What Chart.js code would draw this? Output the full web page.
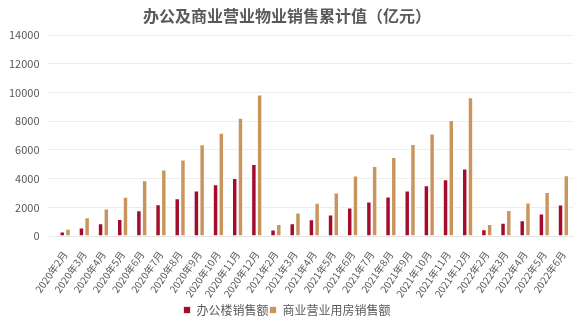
<html>
<head>
<meta charset="utf-8">
<script src="https://cdn.jsdelivr.net/npm/chart.js"></script>
<style>
html, body { margin: 0; padding: 0; background: #fff; }
div { position: relative; width: 580px; height: 326px; }
</style>
</head>
<body>
<div><canvas id="myChart"></canvas></div>
<script>
// 月份
months = ['2020年2月','2020年3月','2020年4月','2020年5月','2020年6月','2020年7月','2020年8月','2020年9月','2020年10月','2020年11月','2020年12月',
          '2021年2月','2021年3月','2021年4月','2021年5月','2021年6月','2021年7月','2021年8月','2021年9月','2021年10月','2021年11月','2021年12月',
          '2022年2月','2022年3月','2022年4月','2022年5月','2022年6月']
// 办公楼销售额（亿元）
office = [320, 600, 890, 1190, 1800, 2220, 2640, 3180, 3600, 4040, 5020,
          460, 890, 1170, 1500, 1990, 2410, 2760, 3180, 3530, 3950, 4700,
          470, 930, 1100, 1570, 2200]
// 商业营业用房销售额（亿元）
commercial = [510, 1310, 1920, 2730, 3880, 4630, 5330, 6400, 7200, 8250, 9860,
              840, 1640, 2310, 3040, 4210, 4880, 5510, 6420, 7150, 8080, 9670,
              840, 1820, 2340, 3060, 4230]

font = "'Noto Sans CJK SC', 'Noto Sans', sans-serif"

new Chart(document.getElementById('myChart'), {
  type: 'bar',
  data: {
    labels: months,
    datasets: [
      { label: '办公楼销售额', data: office, backgroundColor: '#A30D2D', borderColor: '#fff', borderWidth: {left: 1, right: 1, top: 1}, borderSkipped: 'bottom' },
      { label: '商业营业用房销售额', data: commercial, backgroundColor: '#C9955C', borderColor: '#fff', borderWidth: {left: 1, right: 1, top: 1}, borderSkipped: 'bottom' }
    ]
  },
  options: {
    responsive: true,
    maintainAspectRatio: false,
    animation: false,
    layout: { padding: { left: 1, right: 7, top: 4, bottom: 0 } },
    datasets: { bar: { categoryPercentage: 0.6, barPercentage: 0.95 } },
    plugins: {
      title: { display: true, text: '办公及商业营业物业销售累计值（亿元）', color: '#595959',
               font: { family: font, size: 16, weight: 'bold' }, padding: { top: 2, bottom: 10 } },
      legend: { position: 'bottom', labels: { color: '#595959', boxWidth: 7, boxHeight: 7,
               font: { family: font, size: 12 }, padding: 1 } },
      tooltip: { enabled: false }
    },
    scales: {
      x: {
        grid: { display: false },
        border: { color: '#e6e6e6' },
        ticks: { color: '#595959', font: { family: font, size: 10 }, maxRotation: 55, minRotation: 55, autoSkip: false, padding: 5 },
        afterFit: s => { s.height = 67 }
      },
      y: {
        min: 0, max: 14000,
        border: { display: false },
        grid: { color: '#ececec' },
        ticks: { stepSize: 2000, color: '#595959', font: { family: font, size: 11 }, padding: 8,
                 callback: v => String(v) }
      }
    }
  }
})
</script>
</body>
</html>
